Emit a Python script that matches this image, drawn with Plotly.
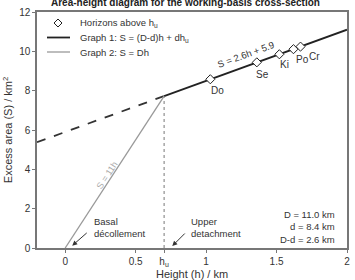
import plotly.graph_objects as go

# Data
D = 11.0
d = 8.4
slope1 = 2.6
intercept1 = 5.9
h_u = 0.702
horizon_names = ["Do", "Se", "Ki", "Po", "Cr"]
horizon_h = [1.03, 1.36, 1.52, 1.62, 1.67]
horizon_S = [8.58, 9.44, 9.85, 10.11, 10.24]
x_tickvals = [0, 0.5, h_u, 1, 1.5, 2]
x_ticktext = ["0", "0.5", "h<sub>u</sub>", "1", "1.5", "2"]
y_tickvals = [0, 2, 4, 6, 8, 10, 12]
legend_labels = ["Horizons above h<sub>u</sub>", "Graph 1: S = (D-d)h + dh<sub>u</sub>", "Graph 2: S = Dh"]

FONT = "Arial, Liberation Sans, sans-serif"
BLACK = "#222"
GREY = "#999"

fig = go.Figure()

# dashed extension of graph 1
fig.add_trace(go.Scatter(x=[-0.2, h_u], y=[slope1 * -0.2 + intercept1, slope1 * h_u + intercept1],
                         mode="lines", line=dict(color="#333", width=1.8, dash="dash"),
                         showlegend=False, hoverinfo="skip"))
# dotted vertical at h_u
fig.add_trace(go.Scatter(x=[h_u, h_u], y=[0, slope1 * h_u + intercept1],
                         mode="lines", line=dict(color="#777", width=1, dash="dot"),
                         showlegend=False, hoverinfo="skip"))
# Graph 1
fig.add_trace(go.Scatter(x=[h_u, 2.0], y=[slope1 * h_u + intercept1, slope1 * 2.0 + intercept1],
                         mode="lines", line=dict(color=BLACK, width=1.8),
                         name=legend_labels[1], showlegend=False))
# Graph 2
fig.add_trace(go.Scatter(x=[0, h_u], y=[0, D * h_u],
                         mode="lines", line=dict(color=GREY, width=1.3),
                         name=legend_labels[2], showlegend=False))
# Horizons
fig.add_trace(go.Scatter(x=horizon_h, y=horizon_S, mode="markers",
                         marker=dict(symbol="diamond", size=7, color="white",
                                     line=dict(color=BLACK, width=1)),
                         name=legend_labels[0], showlegend=False))

# manual legend (paper coordinates of plot area 310x236 px)
PW, PH = 310.0, 236.0
def px(xp):
    return (xp - 37) / PW
def py(yp):
    return (248 - yp) / PH

shapes = []
leg_y = [23, 37.5, 52]
# diamond symbol
cx, cy, r = 58, leg_y[0], 4
shapes.append(dict(type="path", xref="paper", yref="paper",
                   path=f"M {px(cx-r)} {py(cy)} L {px(cx)} {py(cy-r)} L {px(cx+r)} {py(cy)} L {px(cx)} {py(cy+r)} Z",
                   line=dict(color=BLACK, width=1), fillcolor="white"))
shapes.append(dict(type="line", xref="paper", yref="paper", x0=px(47), x1=px(70),
                   y0=py(leg_y[1]), y1=py(leg_y[1]), line=dict(color=BLACK, width=1.8)))
shapes.append(dict(type="line", xref="paper", yref="paper", x0=px(47), x1=px(70),
                   y0=py(leg_y[2]), y1=py(leg_y[2]), line=dict(color=GREY, width=1.3)))

anns = []
for lab, yy in zip(legend_labels, leg_y):
    anns.append(dict(xref="paper", yref="paper", x=px(78), y=py(yy), xanchor="left", yanchor="middle",
                     text=lab, showarrow=False, font=dict(size=9.5, color="#333", family=FONT)))

label_shift = {"Do": (7, -11), "Se": (6, -12), "Ki": (5, -10), "Po": (9, -10), "Cr": (14, -10)}
for n, hh, ss in zip(horizon_names, horizon_h, horizon_S):
    dx, dy = label_shift[n]
    anns.append(dict(x=hh, y=ss, text=n, showarrow=False, xshift=dx, yshift=dy,
                     font=dict(size=10, color="#333", family=FONT)))

anns.append(dict(x=1.28, y=slope1 * 1.28 + intercept1, text="S = 2.6h + 5.9", showarrow=False,
                 textangle=-20, yshift=12, font=dict(size=9.5, color="#333", family=FONT)))
anns.append(dict(x=0.30, y=3.7, text="S = 11h", showarrow=False,
                 textangle=-57, font=dict(size=9, color="#aaa", family=FONT)))

# arrows
anns.append(dict(x=0.05, y=0.12, ax=16, ay=-14, text="", showarrow=True, arrowhead=2,
                 arrowsize=1, arrowwidth=1, arrowcolor="#333"))
anns.append(dict(x=0.76, y=0.1, ax=14, ay=-14, text="", showarrow=True, arrowhead=2,
                 arrowsize=1, arrowwidth=1, arrowcolor="#333"))
anns.append(dict(x=0.19, y=1.05, text="Basal<br>décollement", showarrow=False, xanchor="left",
                 align="left", font=dict(size=9.5, color="#333", family=FONT)))
anns.append(dict(x=0.88, y=1.05, text="Upper<br>detachment", showarrow=False, xanchor="left",
                 align="left", font=dict(size=9.5, color="#333", family=FONT)))
anns.append(dict(x=1.93, y=1.05, text="D = 11.0 km<br>d = 8.4 km<br>D-d = 2.6 km",
                 showarrow=False, xanchor="right", align="right",
                 font=dict(size=9.5, color="#333", family=FONT)))
# title
anns.append(dict(xref="paper", yref="paper", x=0.48, y=1, yanchor="bottom", yshift=2,
                 text="<b>Area-height diagram for the working-basis cross-section</b>",
                 showarrow=False, font=dict(size=10, color="#222", family=FONT)))
# x-axis title
anns.append(dict(xref="paper", yref="paper", x=0.5, y=0, yanchor="top", yshift=-18,
                 text="Height (h) / km", showarrow=False,
                 font=dict(size=11, color="#333", family=FONT)))

fig.update_layout(
    width=355, height=280,
    margin=dict(l=37, r=8, t=12, b=32, autoexpand=False),
    paper_bgcolor="white", plot_bgcolor="white",
    font=dict(family=FONT, size=10, color="#333"),
    annotations=anns, shapes=shapes,
    showlegend=False,
)
fig.update_xaxes(range=[-0.2, 2.0], tickvals=x_tickvals, ticktext=x_ticktext,
                 showgrid=False, zeroline=False, showline=True, linecolor="#777", linewidth=1.5,
                 mirror=True, ticks="outside", ticklen=3, tickcolor="#777",
                 tickfont=dict(size=10, color="#333"), automargin=False)
fig.update_yaxes(range=[0, 12], tickvals=y_tickvals,
                 showgrid=False, zeroline=False, showline=True, linecolor="#777", linewidth=1.5,
                 mirror=True, ticks="outside", ticklen=3, tickcolor="#777",
                 tickfont=dict(size=10, color="#333"), automargin=False,
                 title=dict(text="Excess area (S) / km<sup>2</sup>", font=dict(size=11, color="#333"),
                            standoff=4))

fig.write_html("out.html")
